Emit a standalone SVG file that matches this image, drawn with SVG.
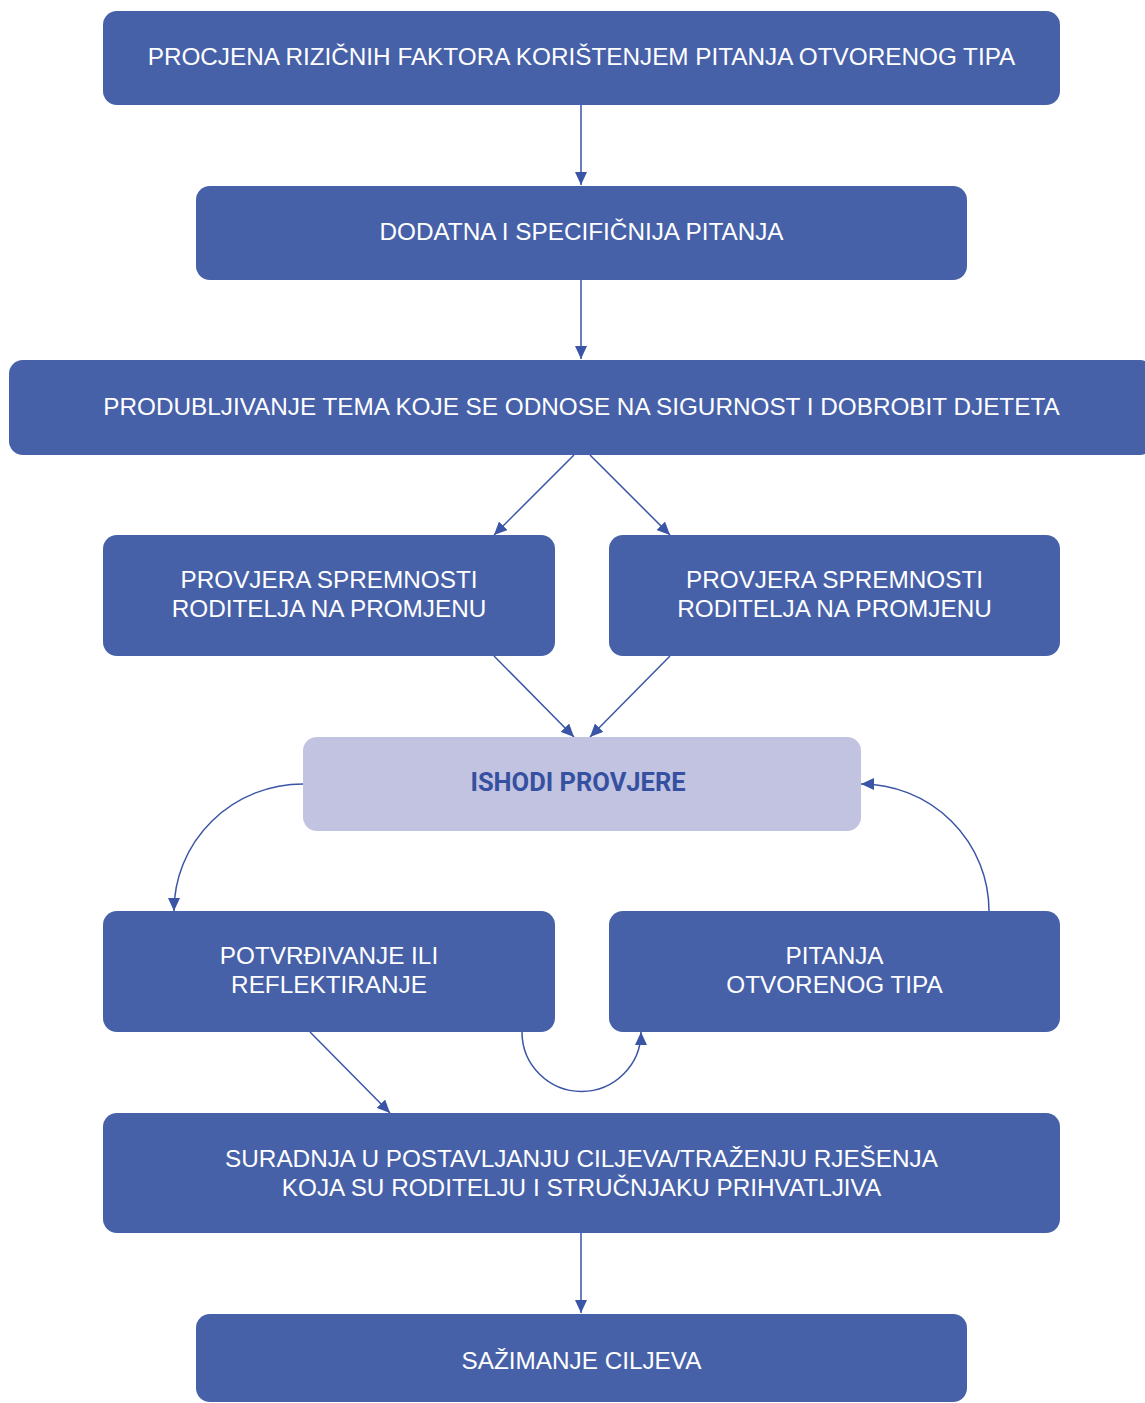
<svg xmlns="http://www.w3.org/2000/svg" width="1145" height="1403" viewBox="0 0 1145 1403">
<style>
.box{fill:#4761a9}
.light{fill:#c1c3e0}
.t{font-family:"Liberation Sans",Arial,sans-serif;font-size:24.3px;fill:#ffffff;text-anchor:middle}
.tb{font-family:Roboto,"Liberation Sans",sans-serif;font-size:25.5px;font-weight:bold;fill:#3550a0;text-anchor:middle}
.c{fill:none;stroke:#3a55a6;stroke-width:1.5}
</style>
<defs>
<marker id="ah" markerUnits="userSpaceOnUse" markerWidth="14" markerHeight="12" refX="13" refY="6" orient="auto">
<path d="M0,0 L13,6 L0,12 Z" fill="#3a55a6"/>
</marker>
</defs>
<rect width="1145" height="1403" fill="#ffffff"/>
<g id="connectors">
<path class="c" d="M581,105 L581,185" marker-end="url(#ah)"/>
<path class="c" d="M581,280 L581,359" marker-end="url(#ah)"/>
<path class="c" d="M574,455 L494,535" marker-end="url(#ah)"/>
<path class="c" d="M590,455 L670,535" marker-end="url(#ah)"/>
<path class="c" d="M494,656 L574,737" marker-end="url(#ah)"/>
<path class="c" d="M670,656 L590,737" marker-end="url(#ah)"/>
<path class="c" d="M303,784 A129,127 0 0 0 174,911" marker-end="url(#ah)"/>
<path class="c" d="M989,911 A128,127 0 0 0 861,784" marker-end="url(#ah)"/>
<path class="c" d="M522,1032 A59.5,59.5 0 0 0 641,1032" marker-end="url(#ah)"/>
<path class="c" d="M310,1032 L390,1113" marker-end="url(#ah)"/>
<path class="c" d="M581,1233 L581,1313" marker-end="url(#ah)"/>
</g>
<g id="n1">
<rect class="box" x="103" y="11" width="957" height="94" rx="14"/>
<text class="t" x="581.5" y="65">PROCJENA RIZIČNIH FAKTORA KORIŠTENJEM PITANJA OTVORENOG TIPA</text>
</g>
<g id="n2">
<rect class="box" x="196" y="186" width="771" height="94" rx="14"/>
<text class="t" x="581.5" y="240">DODATNA I SPECIFIČNIJA PITANJA</text>
</g>
<g id="n3">
<rect class="box" x="9" y="360" width="1145" height="95" rx="14"/>
<text class="t" x="581.5" y="415">PRODUBLJIVANJE TEMA KOJE SE ODNOSE NA SIGURNOST I DOBROBIT DJETETA</text>
</g>
<g id="n4">
<rect class="box" x="103" y="535" width="452" height="121" rx="14"/>
<text class="t" x="329" y="588">PROVJERA SPREMNOSTI</text>
<text class="t" x="329" y="617">RODITELJA NA PROMJENU</text>
</g>
<g id="n5">
<rect class="box" x="609" y="535" width="451" height="121" rx="14"/>
<text class="t" x="834.5" y="588">PROVJERA SPREMNOSTI</text>
<text class="t" x="834.5" y="617">RODITELJA NA PROMJENU</text>
</g>
<g id="n6">
<rect class="light" x="303" y="737" width="558" height="94" rx="14"/>
<text class="tb" x="578" y="791">ISHODI PROVJERE</text>
</g>
<g id="n7">
<rect class="box" x="103" y="911" width="452" height="121" rx="14"/>
<text class="t" x="329" y="964">POTVRĐIVANJE ILI</text>
<text class="t" x="329" y="993">REFLEKTIRANJE</text>
</g>
<g id="n8">
<rect class="box" x="609" y="911" width="451" height="121" rx="14"/>
<text class="t" x="834.5" y="964">PITANJA</text>
<text class="t" x="834.5" y="993">OTVORENOG TIPA</text>
</g>
<g id="n9">
<rect class="box" x="103" y="1113" width="957" height="120" rx="14"/>
<text class="t" x="581.5" y="1167">SURADNJA U POSTAVLJANJU CILJEVA/TRAŽENJU RJEŠENJA</text>
<text class="t" x="581.5" y="1196">KOJA SU RODITELJU I STRUČNJAKU PRIHVATLJIVA</text>
</g>
<g id="n10">
<rect class="box" x="196" y="1314" width="771" height="88" rx="14"/>
<text class="t" x="581.5" y="1369">SAŽIMANJE CILJEVA</text>
</g>
</svg>
